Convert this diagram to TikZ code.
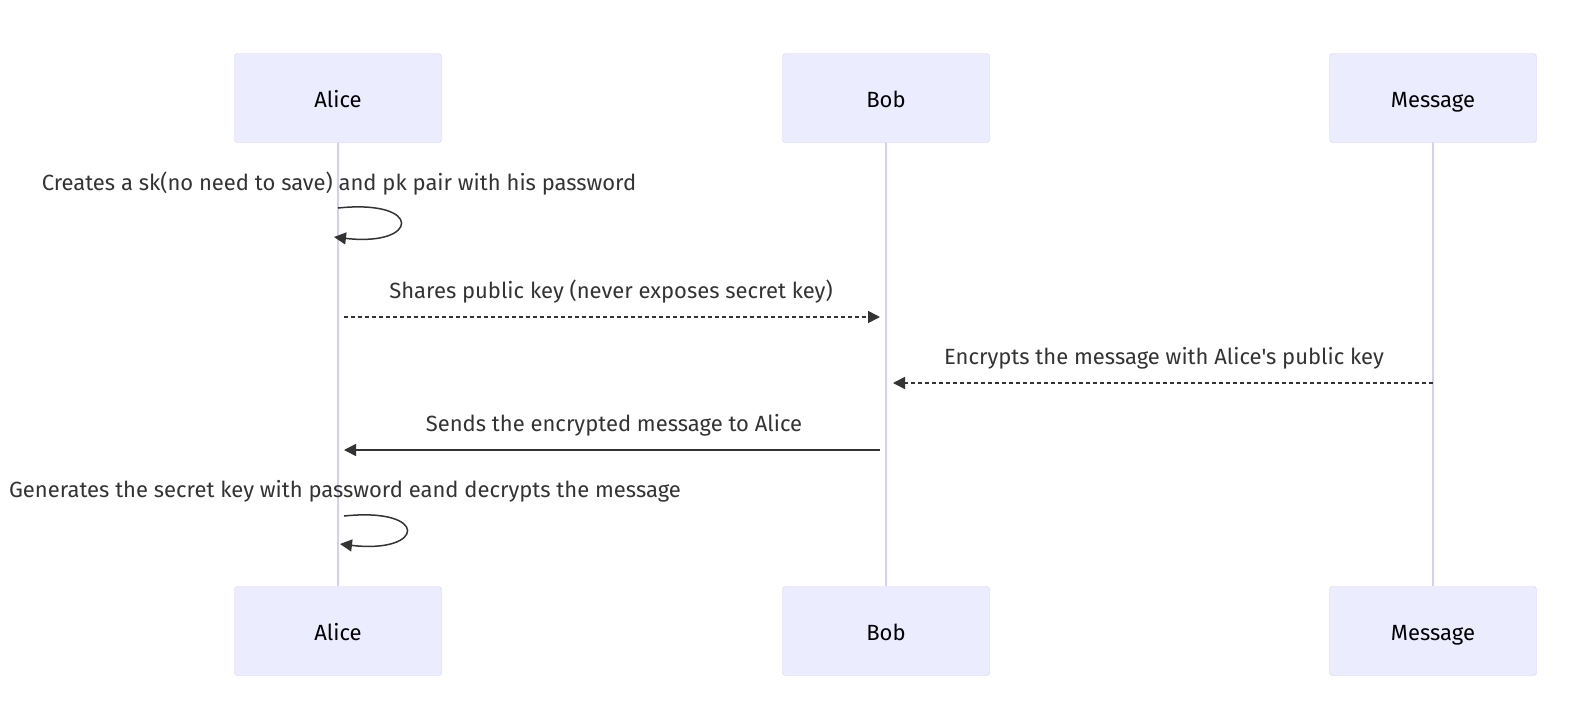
\documentclass[tikz,border=0pt]{standalone}
\usepackage{fontspec}
\setmainfont{Fira Sans}[Ligatures=TeXOff]
\usetikzlibrary{arrows.meta}
\definecolor{actfill}{HTML}{ECECFF}
\definecolor{actline}{HTML}{D6CEF4}
\definecolor{msgcol}{HTML}{333333}
\tikzset{
	actor/.style={draw=actline, fill=actfill, rounded corners=3pt, minimum width=207pt, minimum height=89pt, text height=19pt, text depth=0pt, font=\fontsize{22}{26}\selectfont},
	lifeline/.style={draw=actline, line width=2pt},
	msgtext/.style={font=\fontsize{22}{26}\selectfont, text=msgcol},
	msg/.style={draw=msgcol, line width=1.5pt, -{Triangle[length=12pt,width=12pt]}},
	dashmsg/.style={msg, dash pattern=on 4pt off 3pt}
}
\begin{document}
\begin{tikzpicture}[x=1pt, y=-1pt]
		\useasboundingbox (0,0) rectangle (1582,724);
		% lifelines
		\draw[lifeline] (338,142) -- (338,586);
		\draw[lifeline] (886,142) -- (886,586);
		\draw[lifeline] (1433,142) -- (1433,586);
		% actors
		\node[actor] (alice) at (338,98) {Alice};
		\node[actor] (bob) at (886,98) {Bob};
		\node[actor] (msg) at (1433,98) {Message};
		\node[actor] (alice2) at (338,631) {Alice};
		\node[actor] (bob2) at (886,631) {Bob};
		\node[actor] (msg2) at (1433,631) {Message};
		% self messages
		\node[msgtext] (t1) at (339,184) {Creates a sk(no need to save) and pk pair with his password};
		\coordinate (s1) at (338,208);
		\coordinate (e1) at (334,237);
		\draw[msg] (s1) .. controls (424,199) and (419,247) .. (e1);
		\node[msgtext] (t5) at (345,491) {Generates the secret key with password eand decrypts the message};
		\coordinate (s5) at (344,516);
		\coordinate (e5) at (340,544);
		\draw[msg] (s5) .. controls (430,507) and (425,554) .. (e5);
		% messages
		\coordinate (a2) at (344,317);
		\coordinate (b2) at (880,317);
		\node[msgtext] (t2) at (611,292) {Shares public key (never exposes secret key)};
		\draw[dashmsg] (a2) -- (b2);
		\coordinate (m3) at (1433,383);
		\coordinate (b3) at (893,383);
		\node[msgtext] (t3) at (1164,358) {Encrypts the message with Alice's public key};
		\draw[dashmsg] (m3) -- (b3);
		\coordinate (b4) at (880,450);
		\coordinate (a4) at (344,450);
		\node[msgtext] (t4) at (614,425) {Sends the encrypted message to Alice};
		\draw[msg] (b4) -- (a4);
	\end{tikzpicture}
\end{document}
